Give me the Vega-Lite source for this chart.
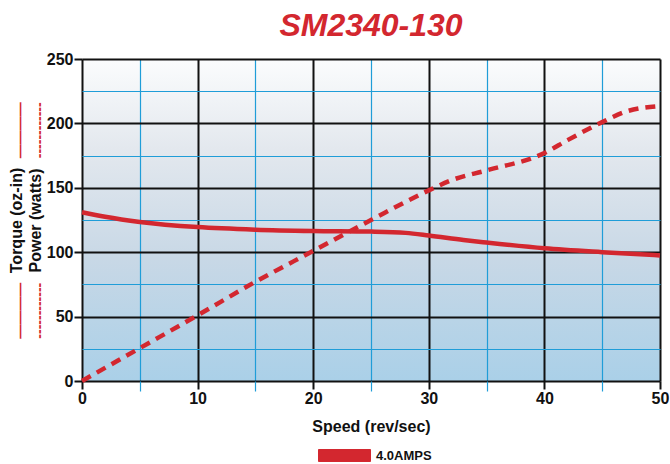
{
  "$schema": "https://vega.github.io/schema/vega-lite/v6.json",
  "width": 578,
  "height": 322,
  "autosize": {"type": "none"},
  "padding": {"left": 82, "top": 59, "right": 10, "bottom": 83},
  "title": {
    "text": "SM2340-130",
    "fontSize": 32,
    "fontWeight": "bold",
    "fontStyle": "italic",
    "color": "#d3272f",
    "font": "Liberation Sans",
    "anchor": "middle",
    "baseline": "alphabetic",
    "offset": 14,
    "dy": 31
  },
  "datasets": {
    "torque": [
      {"speed": 0, "value": 131, "amps": "4.0AMPS"},
      {"speed": 2, "value": 127.5, "amps": "4.0AMPS"},
      {"speed": 5, "value": 123.5, "amps": "4.0AMPS"},
      {"speed": 10, "value": 119.5, "amps": "4.0AMPS"},
      {"speed": 15, "value": 117.5, "amps": "4.0AMPS"},
      {"speed": 20, "value": 116.5, "amps": "4.0AMPS"},
      {"speed": 25, "value": 116, "amps": "4.0AMPS"},
      {"speed": 28, "value": 115, "amps": "4.0AMPS"},
      {"speed": 30, "value": 113, "amps": "4.0AMPS"},
      {"speed": 33, "value": 109.5, "amps": "4.0AMPS"},
      {"speed": 35, "value": 107.5, "amps": "4.0AMPS"},
      {"speed": 40, "value": 103, "amps": "4.0AMPS"},
      {"speed": 45, "value": 100, "amps": "4.0AMPS"},
      {"speed": 50, "value": 97.5, "amps": "4.0AMPS"}
    ],
    "power": [
      {"speed": 0, "value": 0},
      {"speed": 5, "value": 25.5},
      {"speed": 10, "value": 51},
      {"speed": 15, "value": 77},
      {"speed": 20, "value": 101},
      {"speed": 25, "value": 125},
      {"speed": 30, "value": 148},
      {"speed": 32, "value": 156},
      {"speed": 35, "value": 163.5},
      {"speed": 40, "value": 177},
      {"speed": 42, "value": 187},
      {"speed": 45, "value": 201},
      {"speed": 47, "value": 209},
      {"speed": 50, "value": 213.5}
    ]
  },
  "layer": [
    {
      "data": {"name": "power"},
      "mark": {"type": "line", "interpolate": "monotone", "strokeWidth": 4.5, "strokeDash": [10, 7], "color": "#d3272f"},
      "encoding": {
        "x": {
          "field": "speed", "type": "quantitative",
          "scale": {"domain": [0, 50], "nice": false},
          "axis": {
            "orient": "bottom", "values": [5, 15, 25, 35, 45], "labels": false, "domain": false,
            "title": null, "grid": true, "gridColor": "#1f9dd8", "gridWidth": 1.2, "gridOpacity": 1,
            "tickColor": "#1f9dd8", "tickSize": 10, "tickWidth": 1.2
          }
        },
        "y": {
          "field": "value", "type": "quantitative",
          "scale": {"domain": [0, 250], "nice": false},
          "axis": {
            "orient": "left", "values": [25, 75, 125, 175, 225], "labels": false, "domain": false, "ticks": false,
            "grid": true, "gridColor": "#1f9dd8", "gridWidth": 1.2, "gridOpacity": 1,
            "title": ["\u2014\u2014\u2014\u2014\u00a0\u00a0\u00a0\u00a0\u00a0\u00a0\u00a0\u00a0\u00a0\u00a0\u00a0\u00a0\u00a0\u00a0\u00a0\u00a0\u00a0\u00a0\u00a0\u00a0\u00a0\u00a0\u00a0\u00a0\u00a0\u00a0\u00a0\u00a0\u00a0\u00a0\u00a0\u00a0\u2014\u2014\u2014\u2014", "------------\u00a0\u00a0\u00a0\u00a0\u00a0\u00a0\u00a0\u00a0\u00a0\u00a0\u00a0\u00a0\u00a0\u00a0\u00a0\u00a0\u00a0\u00a0\u00a0\u00a0\u00a0\u00a0\u00a0\u00a0\u00a0\u00a0\u00a0\u00a0\u00a0\u00a0\u00a0\u00a0------------"],
            "titleColor": "#d3272f", "titleFont": "Liberation Sans", "titleFontSize": 14, "titleFontWeight": "bold",
            "titleLineHeight": 19, "titlePadding": 36
          }
        }
      }
    },
    {
      "data": {"name": "torque"},
      "mark": {"type": "line", "interpolate": "monotone", "strokeWidth": 4.5},
      "encoding": {
        "x": {
          "field": "speed", "type": "quantitative",
          "axis": {
            "orient": "bottom", "values": [0, 10, 20, 30, 40, 50], "domain": false, "labelFlush": false,
            "grid": true, "gridColor": "#111111", "gridWidth": 2, "gridOpacity": 1,
            "tickColor": "#111111", "tickSize": 8, "tickWidth": 2,
            "labelFont": "Liberation Sans", "labelFontSize": 16, "labelFontWeight": "bold", "labelColor": "#111111", "labelPadding": 1,
            "title": "Speed (rev/sec)", "titleFont": "Liberation Sans", "titleFontSize": 16, "titleFontWeight": "bold", "titleColor": "#111111", "titlePadding": 12
          }
        },
        "y": {
          "field": "value", "type": "quantitative",
          "axis": {
            "orient": "left", "values": [0, 50, 100, 150, 200, 250], "domain": false, "labelFlush": false,
            "grid": true, "gridColor": "#111111", "gridWidth": 2, "gridOpacity": 1,
            "tickColor": "#111111", "tickSize": 8, "tickWidth": 2,
            "labelFont": "Liberation Sans", "labelFontSize": 16, "labelFontWeight": "bold", "labelColor": "#111111", "labelPadding": 1,
            "title": ["Torque (oz-in)", "Power (watts)"], "titleFont": "Liberation Sans", "titleFontSize": 16, "titleFontWeight": "bold", "titleColor": "#111111",
            "titleLineHeight": 19, "titlePadding": 3
          }
        },
        "color": {
          "field": "amps", "type": "nominal",
          "scale": {"range": ["#d3272f"]},
          "legend": {
            "title": null, "orient": "none", "legendX": 236, "legendY": 370, "padding": 0,
            "symbolType": "M-1,-0.23H1V0.23H-1Z", "symbolSize": 2704,
            "symbolFillColor": "#d3272f", "symbolStrokeColor": "#8a1c20", "symbolStrokeWidth": 1,
            "labelFont": "Liberation Sans", "labelFontSize": 13, "labelFontWeight": "bold", "labelColor": "#111111", "labelOffset": 5
          }
        }
      }
    }
  ],
  "resolve": {"axis": {"x": "independent", "y": "independent"}},
  "config": {
    "font": "Liberation Sans",
    "view": {
      "stroke": null,
      "fill": {
        "gradient": "linear", "x1": 0, "y1": 0, "x2": 0, "y2": 1,
        "stops": [
          {"offset": 0, "color": "#fbfcfd"},
          {"offset": 0.28, "color": "#e3e8ee"},
          {"offset": 0.62, "color": "#c8d8e6"},
          {"offset": 1, "color": "#aad0e8"}
        ]
      }
    }
  }
}
